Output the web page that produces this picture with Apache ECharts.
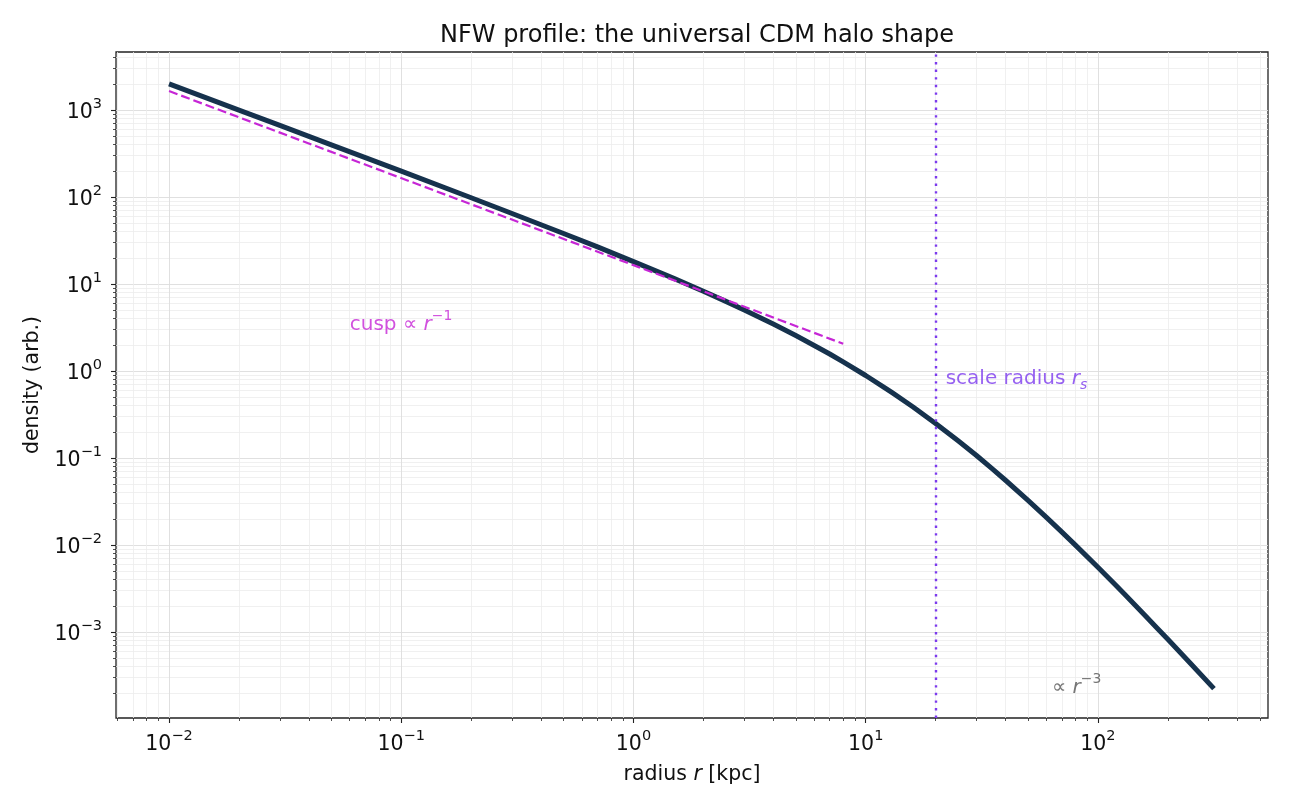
<!DOCTYPE html>
<html>
<head>
<meta charset="utf-8">
<script src="https://cdn.jsdelivr.net/npm/echarts@6/dist/echarts.min.js"></script>
<style>
  html, body { margin: 0; padding: 0; background: #fff; }
  #chart { width: 1290px; height: 810px; }
</style>
</head>
<body>
<div id="chart"></div>
<script>
var dom = document.getElementById("chart");
var myChart = echarts.init(dom);

// radius [kpc] and density
var radius = [0.01, 0.02, 0.03, 0.05, 0.1, 0.2, 0.3, 0.5, 0.7, 1, 1.5, 2, 2.5, 3, 4, 5, 6, 7, 8, 10, 12, 13, 16, 20, 25, 30, 35, 40, 50, 60, 70, 80, 100, 120, 130, 160, 180, 200, 250, 316];
var density = [1998, 998, 665, 398, 198, 98, 64.7, 38.1, 26.7, 18.1, 11.54, 8.26, 6.32, 5.04, 3.47, 2.56, 1.97, 1.57, 1.276, 0.889, 0.651, 0.565, 0.386, 0.25, 0.158, 0.107, 0.0756, 0.0556, 0.0327, 0.0208, 0.0141, 0.0100, 0.00556, 0.0034, 0.00274, 0.00154, 0.00111, 0.000826, 0.000439, 0.000224];

// inner cusp guide (slope -1)
var cuspR = [0.01, 8];
var cuspRho = [1650, 2.06];

var scaleRadius = 20;

var xMajor = [0.01, 0.1, 1, 10, 100];
var yMajor = [0.001, 0.01, 0.1, 1, 10, 100, 1000];
var xMinor = [0.006, 0.007, 0.008, 0.009,
  0.02, 0.03, 0.04, 0.05, 0.06, 0.07, 0.08, 0.09,
  0.2, 0.3, 0.4, 0.5, 0.6, 0.7, 0.8, 0.9,
  2, 3, 4, 5, 6, 7, 8, 9,
  20, 30, 40, 50, 60, 70, 80, 90,
  200, 300, 400, 500];
var yMinor = [0.0002, 0.0003, 0.0004, 0.0005, 0.0006, 0.0007, 0.0008, 0.0009,
  0.002, 0.003, 0.004, 0.005, 0.006, 0.007, 0.008, 0.009,
  0.02, 0.03, 0.04, 0.05, 0.06, 0.07, 0.08, 0.09,
  0.2, 0.3, 0.4, 0.5, 0.6, 0.7, 0.8, 0.9,
  2, 3, 4, 5, 6, 7, 8, 9,
  20, 30, 40, 50, 60, 70, 80, 90,
  200, 300, 400, 500, 600, 700, 800, 900,
  2000, 3000, 4000];

var xMin = 0.00591, xMax = 540;
var yMin = 0.000103, yMax = 4640;

var FONT = "DejaVu Sans";

function zip(a, b) {
  var out = [];
  for (var i = 0; i < a.length; i++) out.push([a[i], b[i]]);
  return out;
}

function powLabel(v) {
  var e = Math.round(Math.log10(v));
  var s = e < 0 ? "\u2212" + (-e) : "" + e;
  return "{b|10}{s|" + s + "}";
}

var labelRich = {
  b: { fontFamily: FONT, fontSize: 20.5, color: "#111", lineHeight: 26, verticalAlign: "bottom" },
  s: { fontFamily: FONT, fontSize: 14.5, color: "#111", lineHeight: 26, verticalAlign: "top" }
};

function majorAxis(kind, min, max, major) {
  return {
    type: "log",
    logBase: 10,
    min: min,
    max: max,
    position: kind === "x" ? "bottom" : "left",
    axisLine: { show: false },
    axisTick: { show: true, customValues: major, length: 5, lineStyle: { color: "#222", width: 1.1 } },
    axisLabel: {
      show: true, customValues: major, margin: kind === "x" ? 11 : 14,
      formatter: powLabel, rich: labelRich
    },
    splitLine: { show: true, customValues: major, lineStyle: { color: "#dcdcdc", width: 0.9 } },
    minorTick: { show: false },
    minorSplitLine: { show: false }
  };
}

function minorAxis(kind, min, max, minor) {
  return {
    type: "log",
    logBase: 10,
    min: min,
    max: max,
    position: kind === "x" ? "bottom" : "left",
    axisLine: { show: false },
    axisTick: { show: true, customValues: minor, length: 3, lineStyle: { color: "#222", width: 0.8 } },
    axisLabel: { show: false },
    splitLine: { show: true, customValues: minor, lineStyle: { color: "#ececec", width: 0.8 } }
  };
}

var xMain = majorAxis("x", xMin, xMax, xMajor);
xMain.name = "radius {i|r} [kpc]";
xMain.nameLocation = "middle";
xMain.nameGap = 46;
xMain.nameTextStyle = {
  fontFamily: FONT, fontSize: 20.5, color: "#111",
  rich: { i: { fontFamily: FONT, fontSize: 20.5, fontStyle: "italic", color: "#111" } }
};

var yMain = majorAxis("y", yMin, yMax, yMajor);
yMain.name = "density (arb.)";
yMain.nameLocation = "middle";
yMain.nameGap = 71;
yMain.nameTextStyle = { fontFamily: FONT, fontSize: 20.5, color: "#111" };

function textPoint(x, y, text, rich) {
  return {
    type: "scatter",
    xAxisIndex: 0, yAxisIndex: 0,
    symbolSize: 0,
    silent: true,
    data: [[x, y]],
    label: {
      show: true, position: "right", distance: 0,
      formatter: text, rich: rich
    },
    z: 6
  };
}

function richSet(color) {
  return {
    t: { fontFamily: FONT, fontSize: 20, color: color, lineHeight: 26, verticalAlign: "bottom" },
    i: { fontFamily: FONT, fontSize: 20, color: color, fontStyle: "italic", lineHeight: 26, verticalAlign: "bottom" },
    n: { fontFamily: FONT, fontSize: 14, color: color, lineHeight: 26, verticalAlign: "top" },
    sub: { fontFamily: FONT, fontSize: 14, color: color, fontStyle: "italic", lineHeight: 26, verticalAlign: "bottom", padding: [0, 0, -3, 0] }
  };
}

var option = {
  backgroundColor: "#fff",
  animation: false,
  title: {
    text: "NFW profile: the universal CDM halo shape",
    left: 692,
    textAlign: "center",
    top: 19,
    textStyle: { fontFamily: FONT, fontSize: 24, fontWeight: "normal", color: "#111" }
  },
  grid: {
    left: 116, right: 22, top: 52, bottom: 92,
    show: true, borderColor: "#222", borderWidth: 1.3,
    backgroundColor: "transparent",
    outerBoundsMode: "none",
    containLabel: false
  },
  xAxis: [xMain, minorAxis("x", xMin, xMax, xMinor)],
  yAxis: [yMain, minorAxis("y", yMin, yMax, yMinor)],
  series: [
    {
      name: "scale radius",
      type: "line",
      data: [],
      z: 2,
      markLine: {
        silent: true,
        symbol: "none",
        label: { show: false },
        lineStyle: { color: "#7c3aed", width: 2.4, type: [2.4, 5.2] },
        data: [{ xAxis: scaleRadius }]
      }
    },
    {
      name: "NFW",
      type: "line",
      data: zip(radius, density),
      showSymbol: false,
      symbol: "none",
      lineStyle: { color: "#16324d", width: 5, cap: "butt", join: "round" },
      z: 4
    },
    {
      name: "cusp",
      type: "line",
      data: zip(cuspR, cuspRho),
      showSymbol: false,
      symbol: "none",
      lineStyle: { color: "#c626d6", width: 2.2, type: [9, 4] },
      z: 5
    },
    textPoint(0.06, 3.66, "{t|cusp \u221d }{i|r}{n|\u22121}", richSet("#c626d6")),
    textPoint(22.1, 0.88, "{t|scale radius }{i|r}{sub|s}", richSet("#7c3aed")),
    textPoint(63.4, 0.000246, "{t|\u221d }{i|r}{n|\u22123}", richSet("#555555"))
  ]
};

if (option && typeof option === "object") {
  myChart.setOption(option, true);
}
</script>
</body>
</html>
